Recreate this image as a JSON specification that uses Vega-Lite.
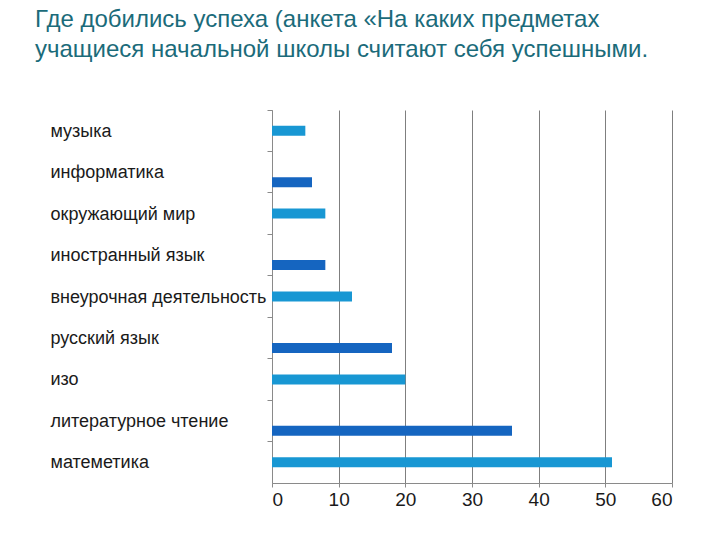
{
  "$schema": "https://vega.github.io/schema/vega-lite/v6.json",
  "width": 400,
  "height": 373,
  "autosize": {"type": "none"},
  "padding": {"left": 272, "top": 110, "right": 48, "bottom": 57},
  "background": "white",
  "title": {
    "text": ["Где добились успеха (анкета «На каких предметах", "учащиеся начальной школы считают себя успешными."],
    "anchor": "start",
    "frame": "group",
    "dx": -237,
    "offset": 48,
    "font": "Liberation Sans Narrow, Liberation Sans, Arial",
    "fontSize": 24,
    "fontWeight": "normal",
    "color": "#1b6b7a",
    "lineHeight": 30
  },
  "config": {
    "view": {"stroke": null},
    "font": "Liberation Sans"
  },
  "data": {
    "values": [
      {"subject": "музыка", "value": 5, "series": "A"},
      {"subject": "информатика", "value": 6, "series": "B"},
      {"subject": "окружающий мир", "value": 8, "series": "A"},
      {"subject": "иностранный язык", "value": 8, "series": "B"},
      {"subject": "внеурочная деятельность", "value": 12, "series": "A"},
      {"subject": "русский язык", "value": 18, "series": "B"},
      {"subject": "\u2002изо", "value": 20, "series": "A"},
      {"subject": "литературное чтение", "value": 36, "series": "B"},
      {"subject": "матеметика", "value": 51, "series": "A"}
    ]
  },
  "resolve": {"axis": {"y": "independent"}},
  "layer": [
    {
      "transform": [{"filter": "datum.series === 'A'"}],
      "mark": {"type": "bar", "size": 10, "color": "#1897d3"},
      "encoding": {
        "y": {
          "field": "subject", "type": "nominal", "sort": null,
          "scale": {
            "domain": ["музыка", "информатика", "окружающий мир", "иностранный язык", "внеурочная деятельность", "русский язык", "\u2002изо", "литературное чтение", "матеметика"],
            "paddingInner": 0, "paddingOuter": 0
          },
          "axis": {
            "orient": "left", "title": null, "domain": false, "ticks": false,
            "labelAlign": "left", "labelPadding": 222, "labelLimit": 400,
            "labelFontSize": 18, "labelColor": "#1a1a1a", "labelFont": "Liberation Sans",
            "labelOffset": 1
          }
        },
        "x": {
          "field": "value", "type": "quantitative",
          "scale": {"domain": [0, 60], "nice": false},
          "axis": {
            "title": null, "values": [0, 10, 20, 30, 40, 50, 60],
            "grid": true, "gridColor": "#7f7f7f", "gridWidth": 1,
            "domainColor": "#8a8a8a", "tickColor": "#8a8a8a", "tickSize": 4,
            "labelFontSize": 19, "labelColor": "#1a1a1a", "labelPadding": 3,
            "labelFont": "Liberation Sans"
          }
        }
      }
    },
    {
      "transform": [{"filter": "datum.series === 'B'"}],
      "mark": {"type": "bar", "size": 10, "color": "#1565c0", "yOffset": 10},
      "encoding": {
        "y": {
          "field": "subject", "type": "nominal", "sort": null,
          "axis": {
            "orient": "left", "title": null, "labels": false,
            "bandPosition": 0, "ticks": true, "tickSize": 5,
            "tickColor": "#8a8a8a", "domainColor": "#8a8a8a"
          }
        },
        "x": {"field": "value", "type": "quantitative"}
      }
    }
  ]
}
